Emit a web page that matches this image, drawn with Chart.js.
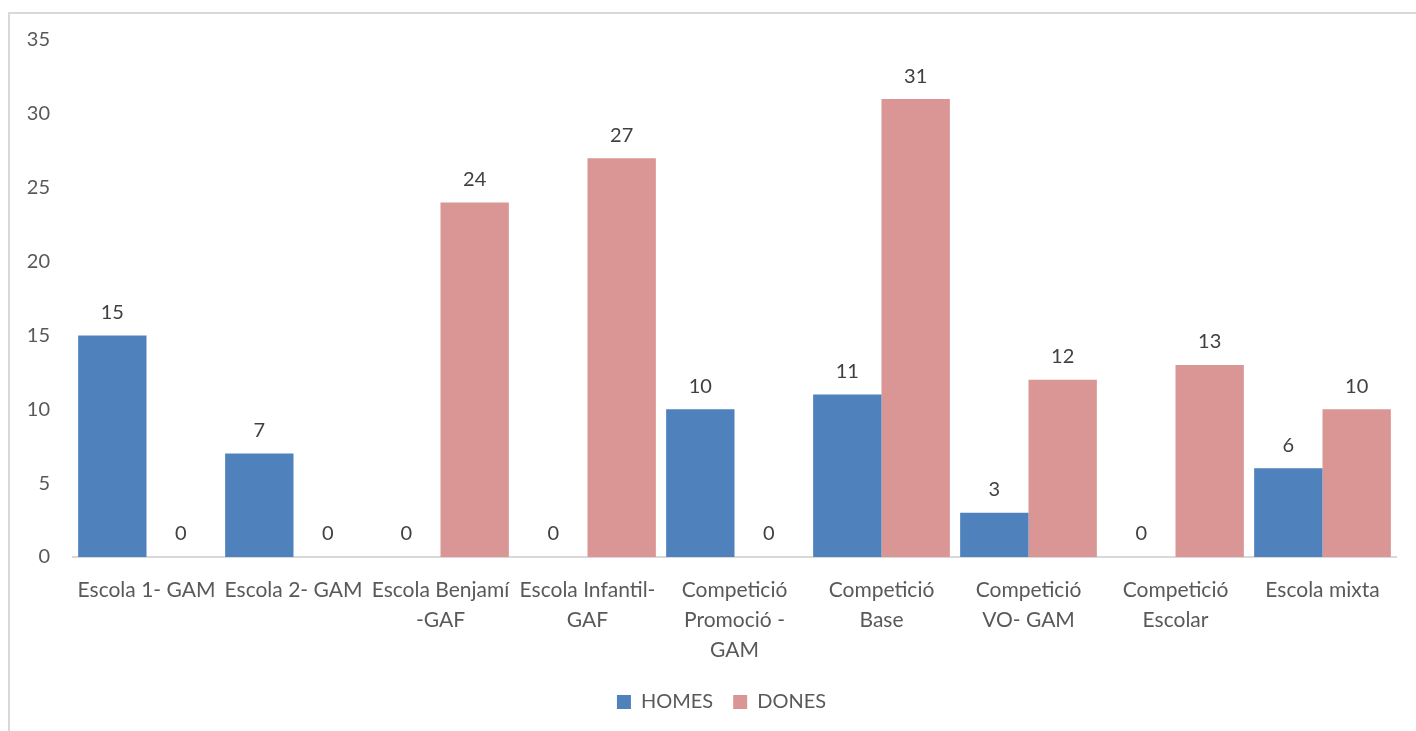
<!DOCTYPE html>
<html>
<head>
<meta charset="utf-8">
<script src="https://cdn.jsdelivr.net/npm/chart.js@4/dist/chart.umd.min.js"></script>
<style>
  html, body { margin: 0; padding: 0; background: #ffffff; overflow: hidden; width: 1416px; height: 731px; }
  #frame { position: absolute; left: 8px; top: 12px; width: 2000px; height: 2000px;
           border-left: 2px solid #d9d9d9; border-top: 2px solid #d9d9d9; }
  #c { position: absolute; left: 0; top: 0; }
</style>
</head>
<body>
<div id="frame"></div>
<canvas id="c" width="1416" height="731"></canvas>
<script>
const categories = [
  "Escola 1- GAM",
  "Escola 2- GAM",
  ["Escola Benjamí", "-GAF"],
  ["Escola Infantil-", "GAF"],
  ["Competició", "Promoció -", "GAM"],
  ["Competició", "Base"],
  ["Competició", "VO- GAM"],
  ["Competició", "Escolar"],
  "Escola mixta"
];
const homes = [15, 7, 0, 0, 10, 11, 3, 0, 6];
const dones = [0, 0, 24, 27, 0, 31, 12, 13, 10];
const seriesNames = ["HOMES", "DONES"];
const yTicks = [0, 5, 10, 15, 20, 25, 30, 35];

const FONT = "Lato";
const TEXT = "#595959";

const valueLabels = {
  id: "valueLabels",
  afterDatasetsDraw(chart) {
    const ctx = chart.ctx;
    ctx.save();
    ctx.font = "20px " + FONT;
    ctx.fillStyle = "#404040";
    ctx.textAlign = "center";
    ctx.textBaseline = "middle";
    chart.data.datasets.forEach((ds, i) => {
      const meta = chart.getDatasetMeta(i);
      meta.data.forEach((bar, j) => {
        ctx.fillText(String(ds.data[j]), bar.x, bar.y - 23);
      });
    });
    ctx.restore();
  }
};

const legendShift = {
  id: "legendShift",
  afterLayout(chart) {
    if (chart.legend) { chart.legend.left += 27; }
  }
};

new Chart(document.getElementById("c"), {
  type: "bar",
  data: {
    labels: categories,
    datasets: [
      { label: seriesNames[0], data: homes, backgroundColor: "#4F81BD", categoryPercentage: 0.93, barPercentage: 1.0 },
      { label: seriesNames[1], data: dones, backgroundColor: "#D99694", categoryPercentage: 0.93, barPercentage: 1.0 }
    ]
  },
  options: {
    responsive: false,
    animation: false,
    layout: { padding: { left: 20, right: 20, top: 40, bottom: 9 } },
    plugins: {
      legend: {
        position: "bottom",
        labels: { font: { family: FONT, size: 20 }, color: TEXT, boxWidth: 14, boxHeight: 14, padding: 20 }
      },
      tooltip: { enabled: false }
    },
    scales: {
      x: {
        grid: { display: false, drawTicks: false },
        border: { display: true, color: "#d9d9d9", width: 2 },
        ticks: { font: { family: FONT, size: 21, lineHeight: 1.43 }, color: TEXT, padding: 18, autoSkip: false, maxRotation: 0, minRotation: 0 },
        afterFit: (s) => { s.height = 115; }
      },
      y: {
        min: 0, max: 35,
        grid: { display: false, drawTicks: false },
        border: { display: false },
        afterBuildTicks: (s) => { s.ticks = yTicks.map(v => ({ value: v })); },
        ticks: { font: { family: FONT, size: 20 }, color: TEXT, padding: 23 },
        afterFit: (s) => { s.width = 53; }
      }
    }
  },
  plugins: [valueLabels, legendShift]
});
</script>
</body>
</html>
